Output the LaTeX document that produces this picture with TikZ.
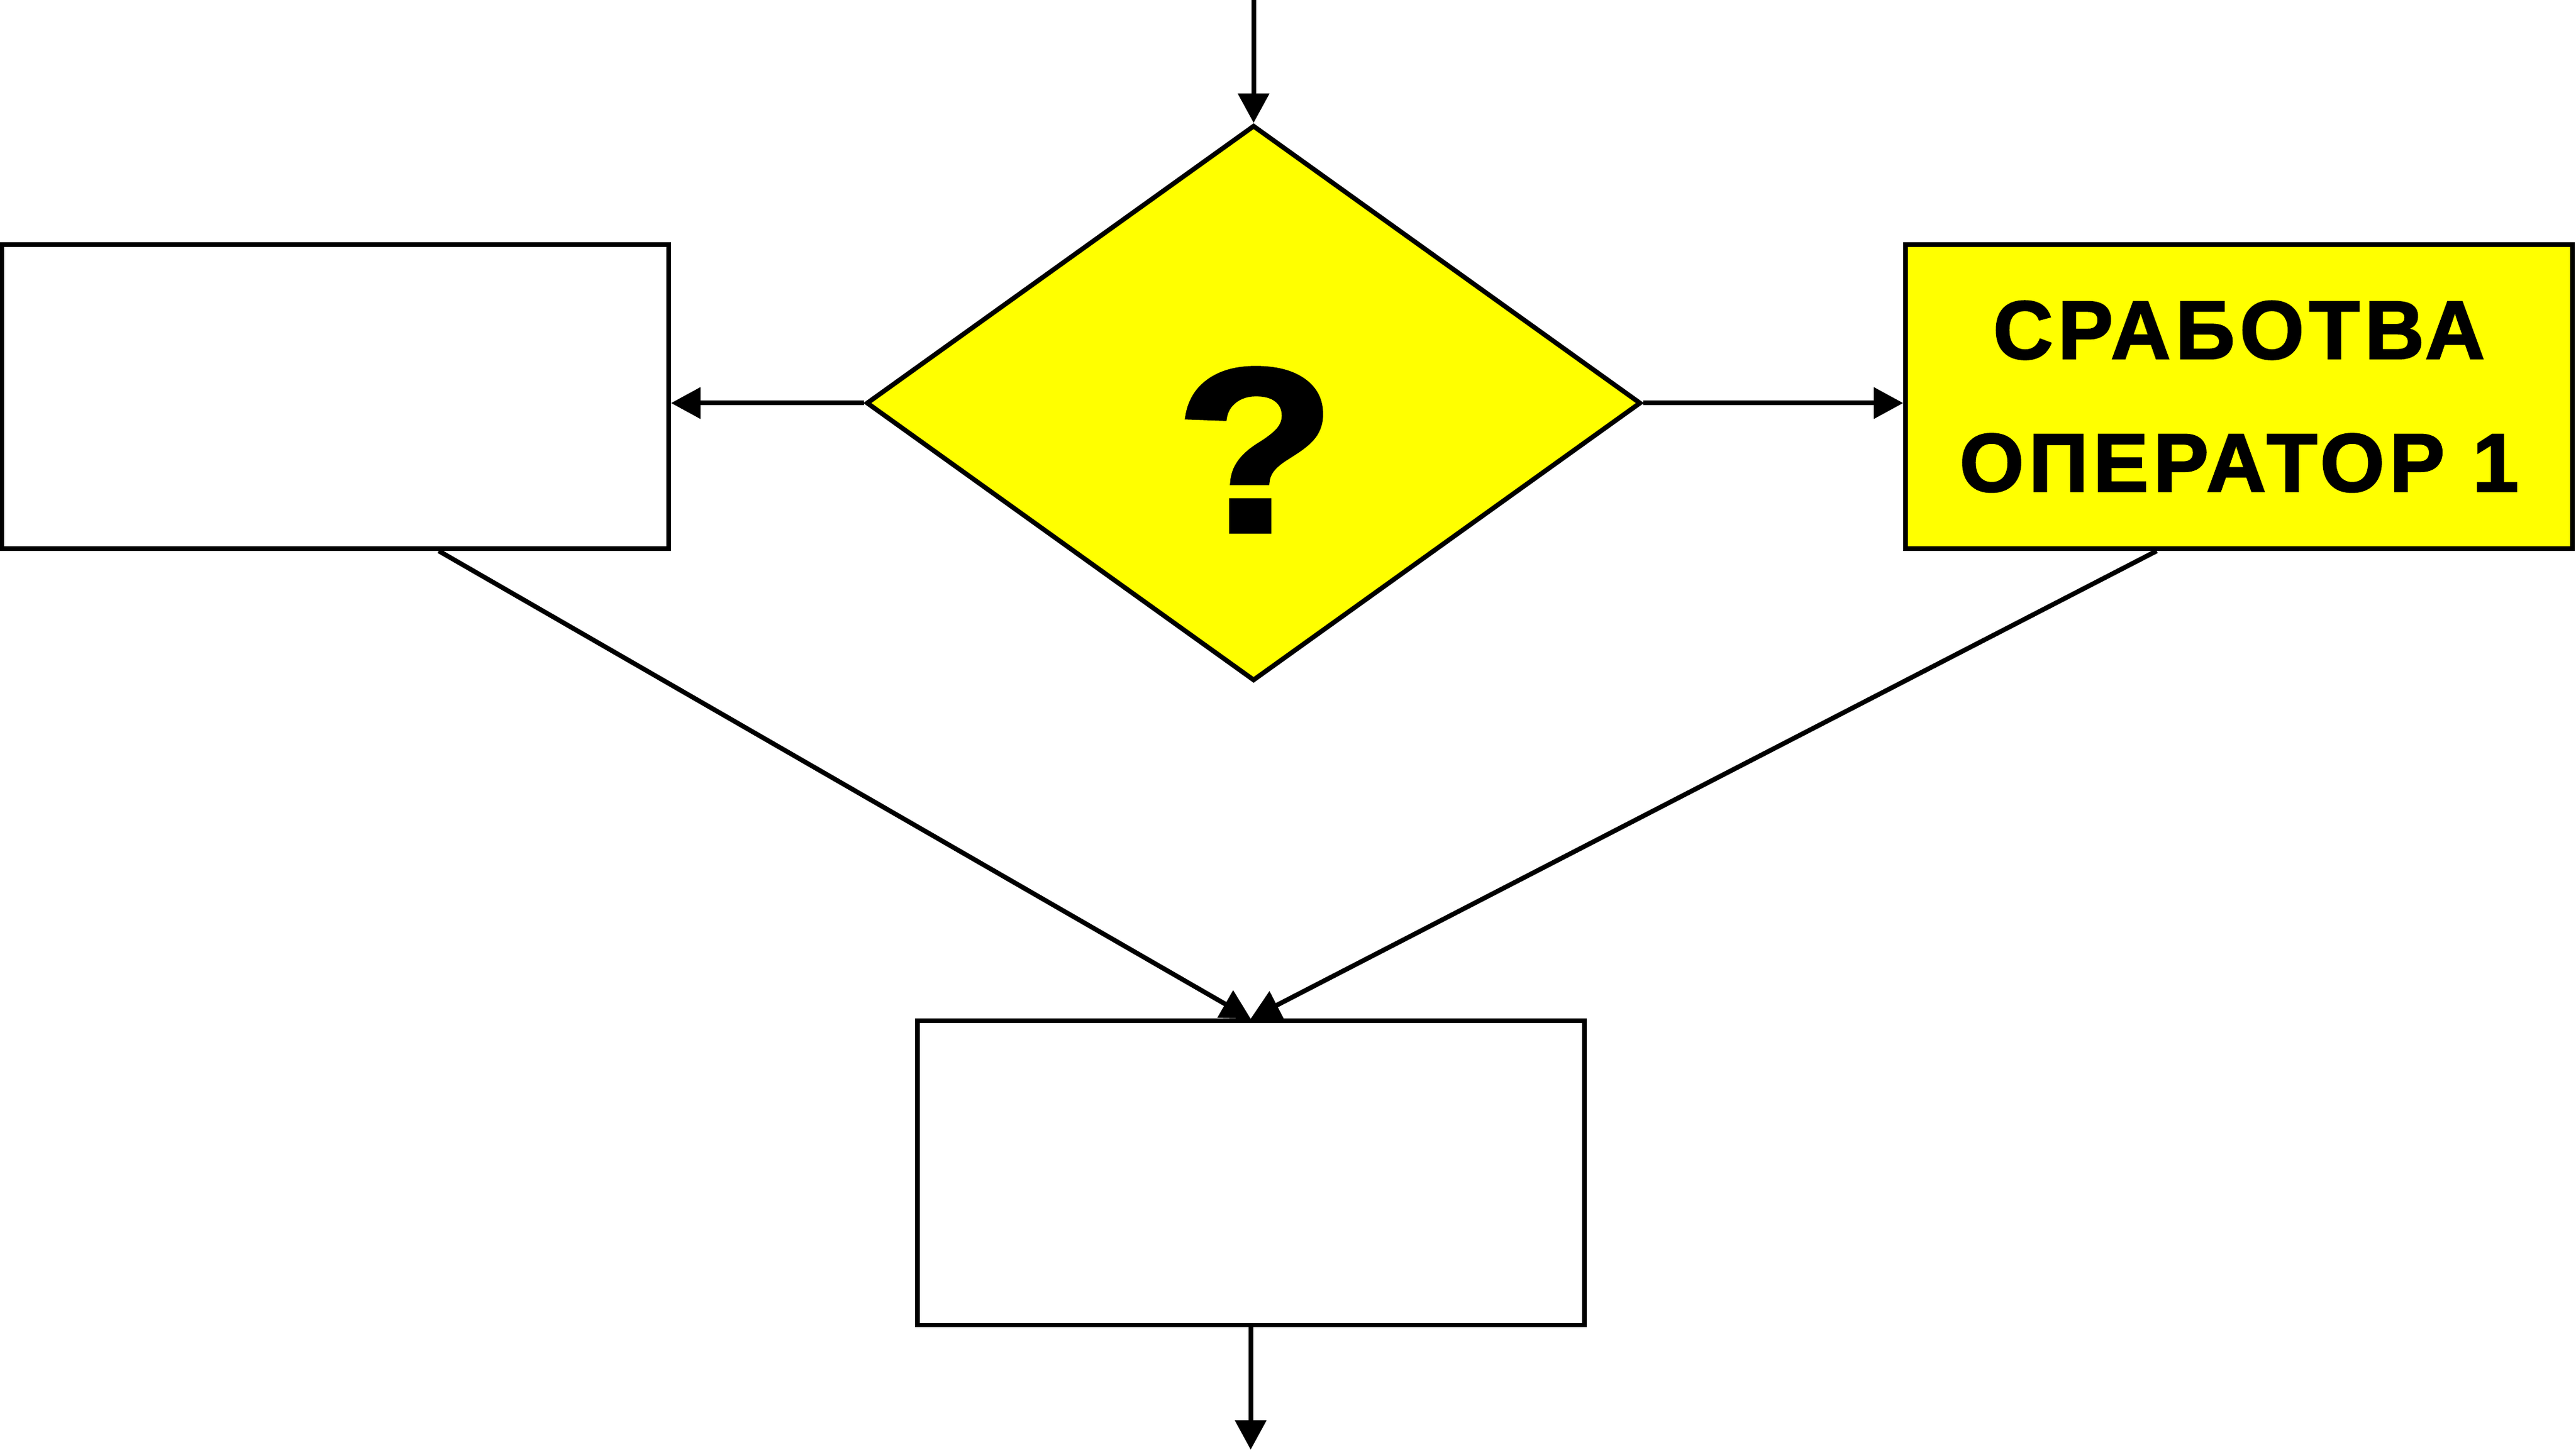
\documentclass[tikz,border=0pt]{standalone}
\usepackage{fontspec}
\newfontfamily\labelfont[LetterSpace=6,FakeBold=2]{Liberation Sans}
\newfontfamily\qfont[FakeBold=2]{Liberation Sans}
\usetikzlibrary{shapes.geometric}
\usetikzlibrary{arrows.meta}
\usetikzlibrary{calc}
\definecolor{signyellow}{RGB}{255,255,0}

\begin{document}
\begin{tikzpicture}[line width=2.27pt, >={Triangle[length=0.5cm,width=0.52cm]},
	stepbox/.style={draw, rectangle, fill=white, minimum width=11.34cm, minimum height=5.17cm, inner sep=0pt},
	decision/.style={draw, diamond, fill=signyellow, minimum width=13.17cm, minimum height=9.45cm, inner sep=0pt}]
\useasboundingbox (0,0) rectangle (43.8,24.66);
\node[decision] (cond) at (21.315,17.805) {};
\node[inner sep=0pt] (qmark) at (21.35,17.01) {\qfont\bfseries\fontsize{113pt}{113pt}\selectfont\scalebox{1.12}[1]{?}};
\node[stepbox] (left) at (5.70,17.915) {};
\node[stepbox, fill=signyellow, align=center, font=\labelfont\bfseries\fontsize{40pt}{64.2pt}\selectfont] (right) at (38.07,17.915) {СРАБОТВА\\ОПЕРАТОР 1};
\node[stepbox] (bot) at (21.265,4.71) {};
\coordinate (in) at ([yshift=2.09cm]cond.north);
\coordinate (out) at ([yshift=-2.08cm]bot.south);
\draw[->] (in) -- (cond.north);
\draw[->] (cond.west) -- (cond.west -| left.east);
\draw[->] (cond.east) -- (cond.east -| right.west);
\draw[->] ([xshift=1.76cm]left.south) -- (bot.north);
\draw[->] ([xshift=-1.40cm]right.south) -- (bot.north);
\draw[->] (bot.south) -- (out);
\end{tikzpicture}
\end{document}
